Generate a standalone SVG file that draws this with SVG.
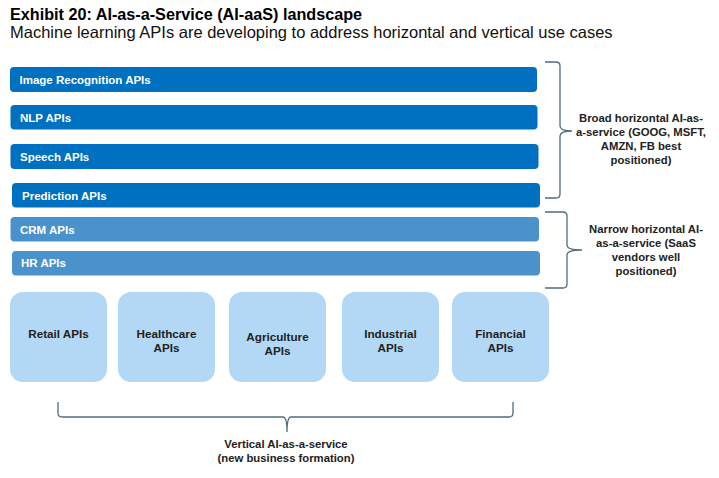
<svg xmlns="http://www.w3.org/2000/svg" width="719" height="478" viewBox="0 0 719 478">
<style>
.title{font-family:"Liberation Sans",Arial,sans-serif;font-weight:bold;font-size:16.2px;fill:#000}
.sub{font-family:"Liberation Sans",Arial,sans-serif;font-size:16.5px;fill:#111}
.bar{fill:#0070c0}
.bar2{fill:#4a92cc}
.sq{fill:#b3d8f5}
.bt{font-family:"Liberation Sans",Arial,sans-serif;font-weight:bold;font-size:11.5px;fill:#fff}
.st{font-family:"Liberation Sans",Arial,sans-serif;font-weight:bold;font-size:11.7px;fill:#222;text-anchor:middle}
.lt{font-family:"Liberation Sans",Arial,sans-serif;font-weight:bold;font-size:11.3px;fill:#222;text-anchor:middle}
.br{fill:none;stroke:#4e6d7e;stroke-width:1.3}
</style>
<rect width="719" height="478" fill="#fff"/>
<text class="title" x="10" y="19.5">Exhibit 20: AI-as-a-Service (AI-aaS) landscape</text>
<text class="sub" x="10" y="38">Machine learning APIs are developing to address horizontal and vertical use cases</text>

<g id="image-recognition"><rect class="bar" x="10" y="67" width="527" height="25" rx="4"/><text class="bt" x="19.5" y="84">Image Recognition APIs</text></g>
<g id="nlp"><rect class="bar" x="10.5" y="105" width="527" height="24.5" rx="4"/><text class="bt" x="20" y="121.5">NLP APIs</text></g>
<g id="speech"><rect class="bar" x="10.5" y="144" width="528" height="25" rx="4"/><text class="bt" x="20" y="160.5">Speech APIs</text></g>
<g id="prediction"><rect class="bar" x="12" y="183" width="528" height="24.5" rx="4"/><text class="bt" x="22" y="199.5">Prediction APIs</text></g>
<g id="crm"><rect class="bar2" x="10.5" y="217" width="528.5" height="24.5" rx="4"/><text class="bt" x="20" y="233.5">CRM APIs</text></g>
<g id="hr"><rect class="bar2" x="12" y="251" width="528" height="24.5" rx="4"/><text class="bt" x="21" y="267">HR APIs</text></g>

<g id="retail"><rect class="sq" x="10" y="292" width="97" height="90" rx="13"/><text class="st" x="58.5" y="338">Retail APIs</text></g>
<g id="healthcare"><rect class="sq" x="118" y="292" width="97" height="90" rx="13"/><text class="st" x="166.5" y="338">Healthcare</text><text class="st" x="166.5" y="352">APIs</text></g>
<g id="agriculture"><rect class="sq" x="229" y="292" width="97" height="90" rx="13"/><text class="st" x="277.5" y="341">Agriculture</text><text class="st" x="277.5" y="355">APIs</text></g>
<g id="industrial"><rect class="sq" x="342" y="292" width="97" height="90" rx="13"/><text class="st" x="390.5" y="338">Industrial</text><text class="st" x="390.5" y="352">APIs</text></g>
<g id="financial"><rect class="sq" x="452" y="292" width="97" height="90" rx="13"/><text class="st" x="500.5" y="338">Financial</text><text class="st" x="500.5" y="352">APIs</text></g>

<g id="connectors">
<path class="br" d="M545 62 H556 Q560 62 560 66 V126 Q560 131 572 131 Q560 131 560 136 V194 Q560 198 556 198 H545"/>
<path class="br" d="M545 212 H563 Q567 212 567 216 V245 Q567 250 582 250 Q567 250 567 255 V284 Q567 288 563 288 H545"/>
<path class="br" d="M58 402 V413 Q58 417 62 417 H283 Q287 417 287 432 Q287 417 291 417 H509 Q513 417 513 413 V402"/>
</g>

<g id="broad-label">
<text class="lt" x="641" y="122">Broad horizontal AI-as-</text>
<text class="lt" x="641" y="136">a-service (GOOG, MSFT,</text>
<text class="lt" x="641" y="150">AMZN, FB best</text>
<text class="lt" x="641" y="164">positioned)</text>
</g>
<g id="narrow-label">
<text class="lt" x="646" y="233">Narrow horizontal AI-</text>
<text class="lt" x="646" y="247">as-a-service (SaaS</text>
<text class="lt" x="646" y="261">vendors well</text>
<text class="lt" x="646" y="275">positioned)</text>
</g>
<g id="vertical-label">
<text class="lt" x="286" y="448">Vertical AI-as-a-service</text>
<text class="lt" x="286" y="462">(new business formation)</text>
</g>
</svg>
